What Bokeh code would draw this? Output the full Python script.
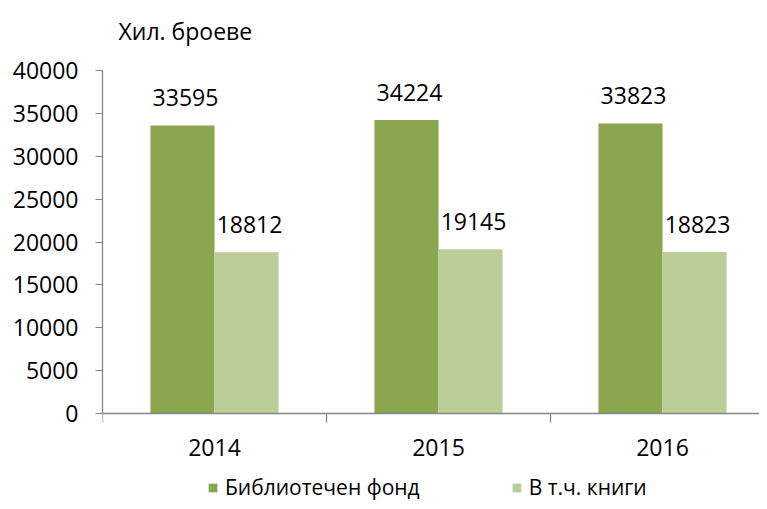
from bokeh.plotting import figure
from bokeh.models import (Range1d, FixedTicker, Legend, LegendItem, ColumnDataSource, Label)
from bokeh.core.properties import value
from bokeh.embed import file_html
from bokeh.resources import INLINE

categories = ["2014", "2015", "2016"]
fund = [33595, 34224, 33823]
books = [18812, 19145, 18823]
series_names = ["Библиотечен фонд", "В т.ч. книги"]
y_ticks = [0, 5000, 10000, 15000, 20000, 25000, 30000, 35000, 40000]
title_text = "Хил. броеве"

FONT = "Open Sans"
DARK = "#8AA64F"
LIGHT = "#BBCE98"
AXIS = "#868686"

W, H = 759, 501
TOP, LEFT = 70, 102          # pixel row of 40000, pixel column of the y axis
ZERO_Y = 413                 # pixel row of the value 0
TITLE_Y = 30                 # pixel row of the title's centre
y_max = 40000
per_px = y_max / (ZERO_Y - TOP)
y_min = -(H - ZERO_Y) * per_px
y_end = ZERO_Y * per_px

idx = list(range(len(categories)))
bw = 0.286
src1 = ColumnDataSource(dict(x=[i - bw / 2 for i in idx], y=fund, t=[str(v) for v in fund]))
src2 = ColumnDataSource(dict(x=[i + bw / 2 for i in idx], y=books, t=[str(v) for v in books]))

p = figure(width=W, height=H, output_backend="svg", toolbar_location=None,
           x_range=Range1d(-0.5, -0.5 + (W - LEFT) / 224), y_range=Range1d(y_min, y_end),
           min_border_left=LEFT, min_border_right=0, min_border_top=0, min_border_bottom=0)
p.outline_line_color = None
p.grid.visible = False
p.background_fill_color = "white"
p.border_fill_color = "white"

p.add_layout(Label(x=-0.5, y=(ZERO_Y - TITLE_Y) * per_px, x_offset=16, text=title_text,
                   text_font=FONT, text_font_size="23px", text_color="black",
                   text_baseline="middle", text_align="left"))

r1 = p.vbar(x="x", top="y", width=bw, source=src1, fill_color=DARK, line_color=None)
r2 = p.vbar(x="x", top="y", width=bw, source=src2, fill_color=LIGHT, line_color=None)

for s in (src1, src2):
    p.text(x="x", y="y", text="t", source=s, y_offset=-28, x_offset=3,
           text_align="center", text_baseline="middle", text_font=value(FONT),
           text_font_size="23px", text_color="black")

# y axis
ya = p.yaxis[0]
ya.ticker = FixedTicker(ticks=y_ticks)
ya.bounds = (0, y_max)
ya.axis_line_color = AXIS
ya.axis_line_width = 1.3
ya.major_tick_line_color = AXIS
ya.major_tick_out = 7
ya.major_tick_in = 0
ya.minor_tick_line_color = None
ya.major_label_standoff = 17
ya.major_label_text_font = FONT
ya.major_label_text_font_size = "23px"
ya.major_label_text_color = "black"

# x axis, fixed at value 0 inside the frame
xa = p.xaxis[0]
xa.fixed_location = 0
xa.ticker = FixedTicker(ticks=idx, minor_ticks=[i - 0.5 for i in idx] + [idx[-1] + 0.5])
xa.major_label_overrides = {i: c for i, c in zip(idx, categories)}
xa.axis_line_color = AXIS
xa.axis_line_width = 1.3
xa.major_tick_line_color = None
xa.major_tick_out = 8
xa.minor_tick_line_color = AXIS
xa.minor_tick_line_width = 1.3
xa.minor_tick_out = 9
xa.minor_tick_in = 0
xa.major_label_standoff = 16
xa.major_label_text_font = FONT
xa.major_label_text_font_size = "23px"
xa.major_label_text_color = "black"

legend = Legend(items=[LegendItem(label=series_names[0], renderers=[r1]),
                       LegendItem(label=series_names[1], renderers=[r2])],
                location=(105, 0), orientation="horizontal",
                glyph_width=11, glyph_height=11, label_standoff=7, spacing=91,
                padding=0, margin=0, border_line_color=None, background_fill_alpha=0,
                label_text_font=FONT, label_text_font_size="21px", label_text_color="black")
p.add_layout(legend, "center")

open("out.html", "w").write(file_html(p, INLINE))
